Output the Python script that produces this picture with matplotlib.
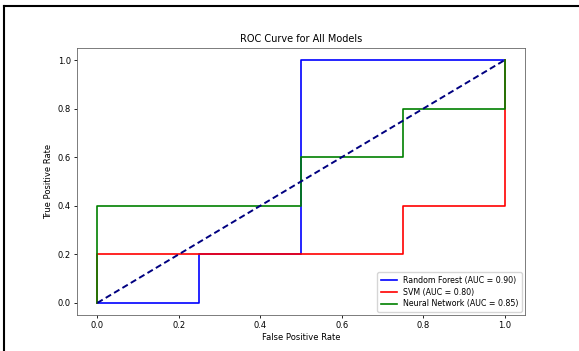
import matplotlib
matplotlib.use("Agg")
import matplotlib.pyplot as plt
from matplotlib.lines import Line2D

rf_fpr = [0.0, 0.25, 0.25, 0.5, 0.5, 1.0]
rf_tpr = [0.0, 0.0, 0.2, 0.2, 1.0, 1.0]
svm_fpr = [0.0, 0.0, 0.75, 0.75, 1.0, 1.0]
svm_tpr = [0.0, 0.2, 0.2, 0.4, 0.4, 1.0]
nn_fpr = [0.0, 0.0, 0.5, 0.5, 0.75, 0.75, 1.0, 1.0]
nn_tpr = [0.0, 0.4, 0.4, 0.6, 0.6, 0.8, 0.8, 1.0]
labels = ["Random Forest (AUC = 0.90)", "SVM (AUC = 0.80)", "Neural Network (AUC = 0.85)"]
colors = ["blue", "red", "green"]

fig = plt.figure(figsize=(5.79, 3.51), dpi=100)
ax = fig.add_axes([77/579, (351-315)/351, 448/579, 267/351])

for fx, ty, lab, c in zip([rf_fpr, svm_fpr, nn_fpr], [rf_tpr, svm_tpr, nn_tpr], labels, colors):
    ax.plot(fx, ty, color=c, lw=1.2, label=lab)
ax.plot([0, 1], [0, 1], color="navy", lw=1.4, linestyle="--", dashes=(3.2, 1.8))

ax.set_title("ROC Curve for All Models", fontsize=7, pad=4)
ax.set_xlabel("False Positive Rate", fontsize=6, labelpad=2)
ax.set_ylabel("True Positive Rate", fontsize=6, labelpad=3)
ax.tick_params(labelsize=6, length=2.5, width=0.6, pad=2)
for s in ax.spines.values():
    s.set_linewidth(0.6)
    s.set_color("#666666")
ax.legend(loc="lower right", fontsize=5.7, handlelength=2, borderpad=0.45,
          labelspacing=0.35, borderaxespad=0.4)

fig.add_artist(Line2D([4/579, 1], [1 - 6/351, 1 - 6/351], transform=fig.transFigure, color="black", lw=1.5))
fig.add_artist(Line2D([4/579, 4/579], [0, 1 - 6/351], transform=fig.transFigure, color="black", lw=1.5))

fig.savefig("out.png", dpi=100)
